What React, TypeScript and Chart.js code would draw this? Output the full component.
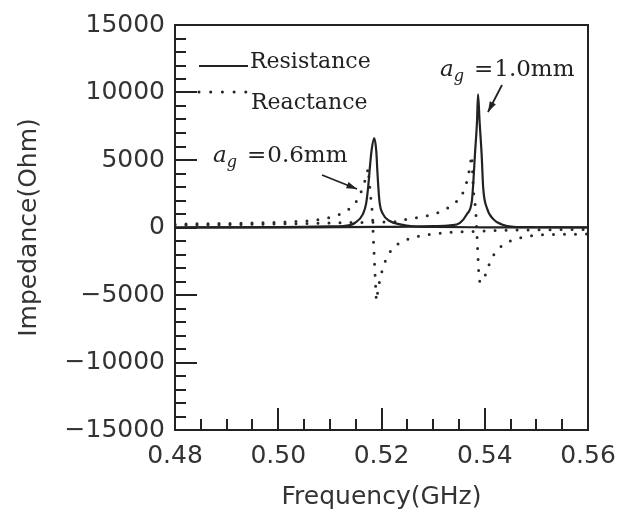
import React, { useEffect, useRef } from "react";
import { Chart, registerables } from "chart.js";

Chart.register(...registerables);

// ---------------- data ----------------
// Resistance, a_g = 0.6 mm
const freqR06 = [0.48, 0.49, 0.5, 0.505, 0.51, 0.5126, 0.5149, 0.5164, 0.517, 0.5174, 0.5178, 0.5181, 0.5186, 0.519, 0.5192, 0.5196, 0.5203, 0.5216, 0.5236, 0.5261, 0.53, 0.54, 0.55, 0.56];
const resR06 = [0, 10, 30, 50, 80, 100, 350, 990, 1730, 2930, 4680, 5780, 6620, 5600, 4160, 1950, 990, 480, 230, 80, 40, 15, 5, 0];

// Reactance, a_g = 0.6 mm
const freqX06 = [0.48, 0.49, 0.5, 0.5062, 0.5085, 0.5104, 0.5125, 0.5143, 0.5156, 0.5163, 0.5171, 0.5174, 0.5178, 0.518, 0.5182, 0.5183, 0.5184, 0.5185, 0.5186, 0.5187, 0.5188, 0.5189, 0.519, 0.5197, 0.5203, 0.521, 0.5222, 0.5239, 0.526, 0.5283, 0.5304, 0.5326, 0.5348, 0.5368, 0.5391, 0.545, 0.55, 0.555, 0.56];
const reaX06 = [250, 300, 380, 500, 620, 780, 1050, 1510, 2180, 2900, 3800, 4400, 2700, 1900, 1200, 480, -630, -1440, -2220, -3060, -3870, -4680, -5420, -3800, -2960, -2220, -1490, -1040, -750, -550, -460, -380, -330, -310, -260, -200, -170, -150, -140];

// Resistance, a_g = 1.0 mm
const freqR10 = [0.48, 0.5, 0.52, 0.53, 0.5333, 0.5352, 0.5365, 0.5375, 0.5378, 0.5381, 0.5385, 0.5387, 0.539, 0.5394, 0.5397, 0.5404, 0.5417, 0.5433, 0.5455, 0.55, 0.56];
const resR10 = [0, 10, 40, 100, 160, 350, 970, 1950, 3430, 5400, 7850, 9860, 7850, 5400, 2930, 1460, 600, 230, 50, 20, 5];

// Reactance, a_g = 1.0 mm
const freqX10 = [0.48, 0.49, 0.5, 0.51, 0.5165, 0.5233, 0.5255, 0.5278, 0.5299, 0.532, 0.5339, 0.5354, 0.5362, 0.5368, 0.5371, 0.5375, 0.5378, 0.5381, 0.5383, 0.5385, 0.5386, 0.5387, 0.5388, 0.5389, 0.5392, 0.5404, 0.541, 0.542, 0.5436, 0.5457, 0.5478, 0.5501, 0.5521, 0.556, 0.56];
const reaX10 = [180, 210, 260, 330, 380, 430, 680, 770, 950, 1240, 1700, 2230, 2990, 3720, 4530, 5340, 2690, 1830, 970, -630, -1440, -2270, -3080, -3900, -4100, -3330, -2540, -1860, -1240, -870, -680, -550, -520, -500, -490];

// axes
const xTickValues = [0.48, 0.5, 0.52, 0.54, 0.56];
const yTickValues = [-15000, -10000, -5000, 0, 5000, 10000, 15000];
const xMinorStep = 0.005;
const yMinorStep = 1000;

const legendItems = ["Resistance", "Reactance"];
const annotationLabels = ["1.0mm", "0.6mm"];

const INK = "#222";
const SERIF = '"DejaVu Serif", serif';

const pts = (xs: number[], ys: number[]) => xs.map((x, i) => ({ x, y: ys[i] }));

const framePlugin = {
  id: "frameTicks",
  afterDatasetsDraw(chart: any) {
    const { ctx, chartArea, scales } = chart;
    const { left, right, top, bottom } = chartArea;
    const x = scales.x;
    const y = scales.y;
    ctx.save();
    ctx.strokeStyle = INK;
    ctx.lineWidth = 2;
    ctx.lineCap = "butt";
    ctx.strokeRect(left, top, right - left, bottom - top);
    const nx = Math.round((x.max - x.min) / xMinorStep);
    for (let k = 0; k <= nx; k++) {
      const v = x.min + k * xMinorStep;
      const px = Math.round(x.getPixelForValue(v));
      const major = xTickValues.some((t) => Math.abs(t - v) < 1e-9);
      const len = major ? 22 : 11;
      ctx.beginPath();
      ctx.moveTo(px, bottom);
      ctx.lineTo(px, bottom - len);
      ctx.stroke();
    }
    const ny = Math.round((y.max - y.min) / yMinorStep);
    for (let k = 0; k <= ny; k++) {
      const v = y.min + k * yMinorStep;
      const py = Math.round(y.getPixelForValue(v));
      const major = yTickValues.some((t) => Math.abs(t - v) < 1e-6);
      const len = major ? 22 : 11;
      ctx.beginPath();
      ctx.moveTo(left, py);
      ctx.lineTo(left + len, py);
      ctx.stroke();
    }
    ctx.restore();
  },
};

function drawLabel(ctx: CanvasRenderingContext2D, x0: number, base: number, rest: string) {
  ctx.fillStyle = INK;
  ctx.textBaseline = "alphabetic";
  ctx.textAlign = "left";
  ctx.font = `italic 23px ${SERIF}`;
  ctx.fillText("a", x0, base);
  const wa = ctx.measureText("a").width;
  ctx.font = `italic 16px ${SERIF}`;
  ctx.fillText("g", x0 + wa, base + 5);
  ctx.font = `23px ${SERIF}`;
  ctx.fillText("=", x0 + 34, base);
  const we = ctx.measureText("=").width;
  ctx.fillText(rest, x0 + 34 + we + 1, base);
}

function drawArrow(ctx: CanvasRenderingContext2D, x1: number, y1: number, x2: number, y2: number) {
  ctx.strokeStyle = INK;
  ctx.fillStyle = INK;
  ctx.lineWidth = 1.8;
  ctx.beginPath();
  ctx.moveTo(x1, y1);
  ctx.lineTo(x2, y2);
  ctx.stroke();
  const a = Math.atan2(y2 - y1, x2 - x1);
  const L = 11;
  const W = 0.32;
  ctx.beginPath();
  ctx.moveTo(x2, y2);
  ctx.lineTo(x2 - L * Math.cos(a - W), y2 - L * Math.sin(a - W));
  ctx.lineTo(x2 - L * Math.cos(a + W), y2 - L * Math.sin(a + W));
  ctx.closePath();
  ctx.fill();
}

const notesPlugin = {
  id: "notes",
  afterDatasetsDraw(chart: any) {
    const { ctx, chartArea } = chart;
    const { left, top } = chartArea;
    ctx.save();
    ctx.strokeStyle = INK;
    ctx.lineWidth = 2;
    ctx.beginPath();
    ctx.moveTo(left + 24, top + 41);
    ctx.lineTo(left + 73, top + 41);
    ctx.stroke();
    ctx.setLineDash([0, 11.7]);
    ctx.lineCap = "round";
    ctx.lineWidth = 3;
    ctx.beginPath();
    ctx.moveTo(left + 24, top + 67);
    ctx.lineTo(left + 74, top + 67);
    ctx.stroke();
    ctx.setLineDash([]);
    ctx.lineCap = "butt";
    ctx.fillStyle = INK;
    ctx.font = `22px ${SERIF}`;
    ctx.textBaseline = "alphabetic";
    ctx.textAlign = "left";
    ctx.fillText(legendItems[0], left + 75, top + 43);
    ctx.fillText(legendItems[1], left + 76, top + 84);

    drawLabel(ctx, left + 265, top + 51, annotationLabels[0]);
    drawArrow(ctx, left + 327, top + 60, left + 313, top + 87);
    drawLabel(ctx, left + 38, top + 137, annotationLabels[1]);
    drawArrow(ctx, left + 147, top + 150, left + 182, top + 164);
    ctx.restore();
  },
};

export default function App() {
  const ref = useRef<HTMLCanvasElement>(null);
  useEffect(() => {
    const canvas = ref.current;
    if (!canvas) return;
    Chart.defaults.font.family = '"DejaVu Sans", sans-serif';
    const solid = {
      borderColor: INK,
      borderWidth: 2.2,
      pointRadius: 0,
      cubicInterpolationMode: "monotone",
      fill: false,
    };
    const dotted = {
      borderColor: "#2a2a2a",
      borderWidth: 3,
      borderDash: [0, 11],
      borderCapStyle: "round",
      pointRadius: 0,
      tension: 0,
      fill: false,
    };
    const chart = new Chart(canvas, {
      type: "line",
      data: {
        datasets: [
          { label: "Resistance 0.6mm", data: pts(freqR06, resR06), ...solid },
          { label: "Resistance 1.0mm", data: pts(freqR10, resR10), ...solid },
          { label: "Reactance 0.6mm", data: pts(freqX06, reaX06), ...dotted },
          { label: "Reactance 1.0mm", data: pts(freqX10, reaX10), ...dotted },
        ] as any,
      },
      options: {
        animation: false,
        responsive: false,
        devicePixelRatio: 1,
        layout: { padding: { top: 23, right: 43, left: 0, bottom: 0 } },
        plugins: { legend: { display: false }, tooltip: { enabled: false } },
        scales: {
          x: {
            type: "linear",
            min: 0.48,
            max: 0.56,
            afterFit: (s: any) => {
              s.height = 84;
            },
            afterBuildTicks: (s: any) => {
              s.ticks = xTickValues.map((v) => ({ value: v }));
            },
            grid: { display: false, drawTicks: false },
            border: { display: false },
            ticks: {
              padding: 11,
              autoSkip: false,
              maxRotation: 0,
              color: "#333",
              font: { size: 25 },
              callback: (v: any) => Number(v).toFixed(2),
            },
            title: {
              display: true,
              text: "Frequency(GHz)",
              color: "#333",
              font: { size: 25 },
              padding: { top: 0, bottom: 2 },
            },
          },
          y: {
            type: "linear",
            min: -15000,
            max: 15000,
            afterFit: (s: any) => {
              s.width = 175;
            },
            afterBuildTicks: (s: any) => {
              s.ticks = yTickValues.map((v) => ({ value: v }));
            },
            grid: { display: false, drawTicks: false },
            border: { display: false },
            ticks: {
              padding: 10,
              autoSkip: false,
              color: "#333",
              font: { size: 25 },
              callback: (v: any) => (Number(v) < 0 ? "\u2212" + Math.abs(Number(v)) : String(v)),
            },
            title: {
              display: true,
              text: "Impedance(Ohm)",
              color: "#333",
              font: { size: 25 },
              padding: { top: 14, bottom: 0 },
            },
          },
        },
      } as any,
      plugins: [framePlugin, notesPlugin],
    });
    return () => chart.destroy();
  }, []);
  return (
    <div style={{ position: "absolute", left: 0, top: 0, width: 631, height: 514, background: "#fff" }}>
      <canvas ref={ref} width={631} height={514} style={{ width: 631, height: 514, display: "block" }} />
    </div>
  );
}
